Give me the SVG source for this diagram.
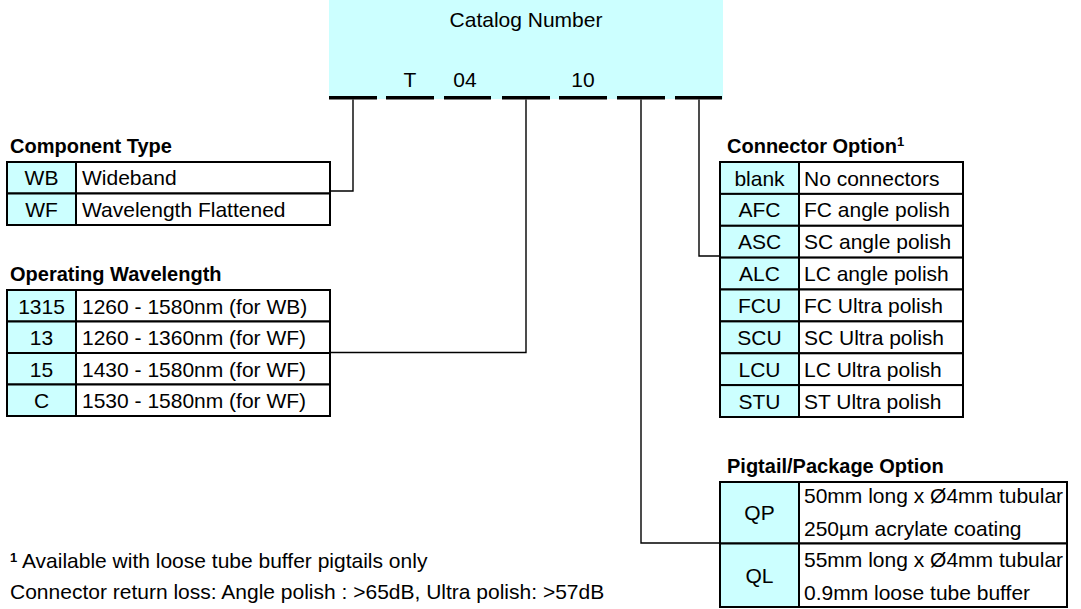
<svg xmlns="http://www.w3.org/2000/svg" width="1081" height="609" viewBox="0 0 1081 609">
<style>
text{font-family:"Liberation Sans",Arial,sans-serif;font-size:21px;fill:#000}
.t{font-weight:bold;font-size:20px}
.sup{font-weight:bold;font-size:13px}
.c{text-anchor:middle}
.code{fill:#CCFFFF;stroke:#000;stroke-width:2}
.desc{fill:#fff;stroke:#000;stroke-width:2}
.dash{fill:#000}
.conn{fill:none;stroke:#000;stroke-width:1.4}
</style>
<defs>
<clipPath id="clipC"><rect x="0" y="0" width="962" height="609"/></clipPath>
<clipPath id="clipP"><rect x="0" y="0" width="1066" height="609"/></clipPath>
</defs>
<rect width="1081" height="609" fill="#fff"/>

<g id="catalog">
<rect x="329" y="0" width="394" height="99" fill="#CCFFFF"/>
<text class="c" x="526" y="27">Catalog Number</text>
<text class="c" x="410" y="87">T</text>
<text class="c" x="465" y="87">04</text>
<text class="c" x="583" y="87">10</text>
<rect class="dash" x="329" y="96" width="48" height="3.5"/>
<rect class="dash" x="386" y="96" width="48" height="3.5"/>
<rect class="dash" x="444" y="96" width="47" height="3.5"/>
<rect class="dash" x="502" y="96" width="48" height="3.5"/>
<rect class="dash" x="559" y="96" width="48" height="3.5"/>
<rect class="dash" x="617" y="96" width="48" height="3.5"/>
<rect class="dash" x="675" y="96" width="47" height="3.5"/>
</g>

<g id="connectors">
<path class="conn" d="M353 99.5 V191 H330"/>
<path class="conn" d="M526 99.5 V352.5 H330"/>
<path class="conn" d="M641 99.5 V543 H720"/>
<path class="conn" d="M699 99.5 V256 H720"/>
</g>

<g id="component-type">
<text class="t" x="10" y="153">Component Type</text>
<rect class="code" x="7" y="162" width="69" height="31.5"/>
<rect class="desc" x="76" y="162" width="254" height="31.5"/>
<rect class="code" x="7" y="193.5" width="69" height="31.5"/>
<rect class="desc" x="76" y="193.5" width="254" height="31.5"/>
<text class="c" x="41.5" y="185">WB</text><text x="82" y="185">Wideband</text>
<text class="c" x="41.5" y="216.5">WF</text><text x="82" y="216.5">Wavelength Flattened</text>
</g>

<g id="operating-wavelength">
<text class="t" x="10" y="281">Operating Wavelength</text>
<rect class="code" x="7" y="290" width="69" height="31.5"/>
<rect class="desc" x="76" y="290" width="254" height="31.5"/>
<rect class="code" x="7" y="321.5" width="69" height="31.5"/>
<rect class="desc" x="76" y="321.5" width="254" height="31.5"/>
<rect class="code" x="7" y="353" width="69" height="31.5"/>
<rect class="desc" x="76" y="353" width="254" height="31.5"/>
<rect class="code" x="7" y="384.5" width="69" height="31.5"/>
<rect class="desc" x="76" y="384.5" width="254" height="31.5"/>
<text class="c" x="41.5" y="313.5">1315</text><text x="82" y="313.5">1260 - 1580nm (for WB)</text>
<text class="c" x="41.5" y="345">13</text><text x="82" y="345">1260 - 1360nm (for WF)</text>
<text class="c" x="41.5" y="376.5">15</text><text x="82" y="376.5">1430 - 1580nm (for WF)</text>
<text class="c" x="41.5" y="408">C</text><text x="82" y="408">1530 - 1580nm (for WF)</text>
</g>

<g id="connector-option">
<text class="t" x="727" y="153">Connector Option<tspan class="sup" dy="-7">1</tspan></text>
<rect class="code" x="720" y="162" width="79" height="31.9"/>
<rect class="desc" x="799" y="162" width="164" height="31.9"/>
<rect class="code" x="720" y="193.9" width="79" height="31.9"/>
<rect class="desc" x="799" y="193.9" width="164" height="31.9"/>
<rect class="code" x="720" y="225.8" width="79" height="31.9"/>
<rect class="desc" x="799" y="225.8" width="164" height="31.9"/>
<rect class="code" x="720" y="257.6" width="79" height="31.9"/>
<rect class="desc" x="799" y="257.6" width="164" height="31.9"/>
<rect class="code" x="720" y="289.5" width="79" height="31.9"/>
<rect class="desc" x="799" y="289.5" width="164" height="31.9"/>
<rect class="code" x="720" y="321.4" width="79" height="31.9"/>
<rect class="desc" x="799" y="321.4" width="164" height="31.9"/>
<rect class="code" x="720" y="353.3" width="79" height="31.9"/>
<rect class="desc" x="799" y="353.3" width="164" height="31.9"/>
<rect class="code" x="720" y="385.1" width="79" height="31.9"/>
<rect class="desc" x="799" y="385.1" width="164" height="31.9"/>
<g clip-path="url(#clipC)">
<text class="c" x="759.5" y="185.5">blank</text><text x="804" y="185.5">No connectors</text>
<text class="c" x="759.5" y="217.4">AFC</text><text x="804" y="217.4">FC angle polish</text>
<text class="c" x="759.5" y="249.3">ASC</text><text x="804" y="249.3">SC angle polish</text>
<text class="c" x="759.5" y="281.1">ALC</text><text x="804" y="281.1">LC angle polish</text>
<text class="c" x="759.5" y="313">FCU</text><text x="804" y="313">FC Ultra polish</text>
<text class="c" x="759.5" y="344.9">SCU</text><text x="804" y="344.9">SC Ultra polish</text>
<text class="c" x="759.5" y="376.8">LCU</text><text x="804" y="376.8">LC Ultra polish</text>
<text class="c" x="759.5" y="408.6">STU</text><text x="804" y="408.6">ST Ultra polish</text>
</g>
</g>

<g id="pigtail-option">
<text class="t" x="727" y="473">Pigtail/Package Option</text>
<rect class="code" x="720" y="482" width="79" height="61.5"/>
<rect class="desc" x="799" y="482" width="268" height="61.5"/>
<rect class="code" x="720" y="543.5" width="79" height="63.5"/>
<rect class="desc" x="799" y="543.5" width="268" height="63.5"/>
<g clip-path="url(#clipP)">
<text class="c" x="759.5" y="520">QP</text>
<text x="804" y="503">50mm long x Ø4mm tubular</text>
<text x="804" y="536">250µm acrylate coating</text>
<text class="c" x="759.5" y="583">QL</text>
<text x="804" y="567">55mm long x Ø4mm tubular</text>
<text x="804" y="600">0.9mm loose tube buffer</text>
</g>
</g>

<g id="footnotes">
<text x="10" y="568"><tspan class="sup" dy="-6">1</tspan><tspan dy="6"> Available with loose tube buffer pigtails only</tspan></text>
<text x="10" y="599">Connector return loss: Angle polish : &gt;65dB, Ultra polish: &gt;57dB</text>
</g>
</svg>
